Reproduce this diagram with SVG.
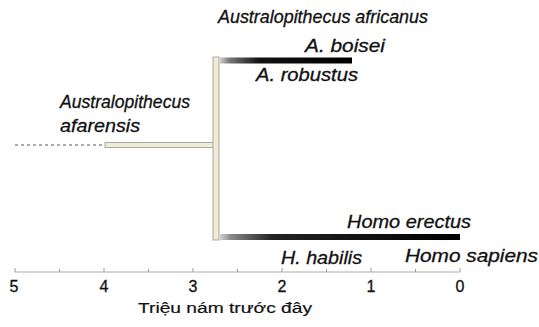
<svg xmlns="http://www.w3.org/2000/svg" width="539" height="327" viewBox="0 0 539 327">
<style>
.lab{font-family:"Liberation Sans",Arial,sans-serif;font-style:italic;font-size:18px;fill:#111;stroke:#111;stroke-width:0.3}
.num{font-family:"Liberation Sans",Arial,sans-serif;font-size:16px;fill:#111;stroke:#111;stroke-width:0.3;text-anchor:middle}
.ax{font-family:"Liberation Sans",Arial,sans-serif;font-size:15.5px;fill:#111;stroke:#111;stroke-width:0.2}
.pale{fill:#eeecd8;stroke:#a9a99c;stroke-width:1}
.tick{stroke:#999;stroke-width:1}
</style>
<defs>
<linearGradient id="gTop" x1="0" x2="1" y1="0" y2="0">
<stop offset="0" stop-color="#d8d8d0"/>
<stop offset="0.08" stop-color="#777"/>
<stop offset="0.3" stop-color="#111"/>
<stop offset="1" stop-color="#000"/>
</linearGradient>
<linearGradient id="gBot" x1="0" x2="1" y1="0" y2="0">
<stop offset="0" stop-color="#d8d8d0"/>
<stop offset="0.05" stop-color="#888"/>
<stop offset="0.22" stop-color="#222"/>
<stop offset="1" stop-color="#000"/>
</linearGradient>
</defs>
<g id="connectors">
<line x1="15" y1="145" x2="105" y2="145" stroke="#aaa" stroke-width="2" stroke-dasharray="3,3"/>
<rect class="pale" x="105" y="142.5" width="112" height="5"/>
<rect class="pale" x="213" y="57" width="6" height="183"/>
<rect x="219" y="57.5" width="133" height="6" fill="url(#gTop)"/>
<rect x="219" y="234" width="241" height="6" fill="url(#gBot)"/>
</g>
<g id="axis">
<line x1="15" y1="272" x2="460" y2="272" stroke="#aaa" stroke-width="1"/>
<line class="tick" x1="15" y1="268" x2="15" y2="272"/>
<line class="tick" x1="59.5" y1="269" x2="59.5" y2="272"/>
<line class="tick" x1="104" y1="268" x2="104" y2="272"/>
<line class="tick" x1="148.5" y1="269" x2="148.5" y2="272"/>
<line class="tick" x1="193" y1="268" x2="193" y2="272"/>
<line class="tick" x1="237.5" y1="269" x2="237.5" y2="272"/>
<line class="tick" x1="282" y1="268" x2="282" y2="272"/>
<line class="tick" x1="326.5" y1="269" x2="326.5" y2="272"/>
<line class="tick" x1="371" y1="268" x2="371" y2="272"/>
<line class="tick" x1="415.5" y1="269" x2="415.5" y2="272"/>
<line class="tick" x1="460" y1="268" x2="460" y2="272"/>
<text class="num" x="14" y="292">5</text>
<text class="num" x="104" y="292">4</text>
<text class="num" x="193" y="292">3</text>
<text class="num" x="282" y="292">2</text>
<text class="num" x="371" y="292">1</text>
<text class="num" x="460" y="292">0</text>
<text class="ax" x="138" y="313" textLength="174" lengthAdjust="spacingAndGlyphs">Triệu nám trước đây</text>
</g>
<g id="n-africanus"><text class="lab" x="218" y="23" textLength="210" lengthAdjust="spacingAndGlyphs">Australopithecus africanus</text></g>
<g id="n-boisei"><text class="lab" x="305" y="52" textLength="80" lengthAdjust="spacingAndGlyphs">A. boisei</text></g>
<g id="n-robustus"><text class="lab" x="256" y="81" textLength="102" lengthAdjust="spacingAndGlyphs">A. robustus</text></g>
<g id="n-afarensis"><text class="lab" x="60" y="108" textLength="130" lengthAdjust="spacingAndGlyphs">Australopithecus</text><text class="lab" x="60" y="132" textLength="80" lengthAdjust="spacingAndGlyphs">afarensis</text></g>
<g id="n-erectus"><text class="lab" x="347" y="228" textLength="124" lengthAdjust="spacingAndGlyphs">Homo erectus</text></g>
<g id="n-habilis"><text class="lab" x="281" y="264" textLength="81" lengthAdjust="spacingAndGlyphs">H. habilis</text></g>
<g id="n-sapiens"><text class="lab" x="405" y="262" textLength="133" lengthAdjust="spacingAndGlyphs">Homo sapiens</text></g>
</svg>
